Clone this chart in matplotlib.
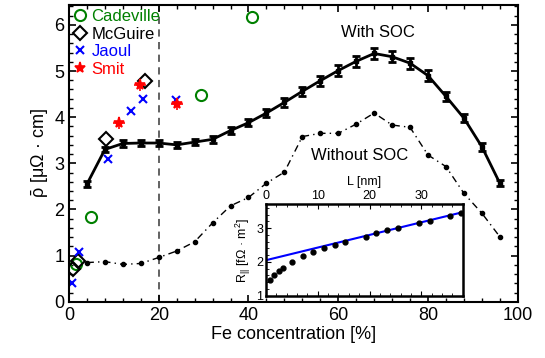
import numpy as np
import matplotlib.pyplot as plt

plt.rcParams['font.family'] = ['Liberation Sans', 'DejaVu Sans']
plt.rcParams['mathtext.fontset'] = 'custom'
plt.rcParams['mathtext.rm'] = 'Liberation Sans'
plt.rcParams['mathtext.it'] = 'Liberation Sans'

# calculated resistivity, with and without spin-orbit coupling
fe = [4, 8, 12, 16, 20, 24, 28, 32, 36, 40, 44, 48, 52, 56, 60, 64, 68, 72, 76, 80, 84, 88, 92, 96]
rho_soc = [2.55, 3.30, 3.43, 3.44, 3.44, 3.40, 3.46, 3.52, 3.71, 3.88, 4.09, 4.32, 4.56, 4.79,
           5.01, 5.21, 5.38, 5.31, 5.17, 4.90, 4.45, 3.98, 3.36, 2.57]
rho_err = [0.07, 0.06, 0.07, 0.07, 0.06, 0.06, 0.06, 0.07, 0.07, 0.08, 0.09, 0.09, 0.10, 0.11,
           0.11, 0.12, 0.12, 0.12, 0.12, 0.12, 0.10, 0.09, 0.09, 0.07]
rho_nosoc = [0.85, 0.87, 0.81, 0.83, 0.96, 1.10, 1.30, 1.71, 2.08, 2.26, 2.57, 2.81, 3.58, 3.65,
             3.65, 3.85, 4.09, 3.83, 3.78, 3.18, 2.93, 2.35, 1.92, 1.41]

# experiments
cad_x = [1.5, 5.0, 29.5, 40.8]
cad_y = [0.82, 1.83, 4.48, 6.16]
mcg_x = [1.0, 2.0, 8.2, 17.0]
mcg_y = [0.70, 0.88, 3.52, 4.79]
jao_x = [0.6, 2.2, 8.7, 13.9, 16.4, 23.9]
jao_y = [0.41, 1.07, 3.09, 4.14, 4.40, 4.37]
smit_x = [11.2, 15.9, 24.1]
smit_y = [3.88, 4.70, 4.28]

# inset: resistance vs length
L = [0.8, 1.6, 2.5, 3.2, 5.1, 7.1, 9.1, 11.2, 13.3, 15.3, 19.3, 21.3, 23.4, 25.5, 29.5, 31.6, 35.6, 37.7]
R = [1.45, 1.61, 1.74, 1.83, 2.01, 2.16, 2.28, 2.40, 2.50, 2.59, 2.75, 2.85, 2.93, 3.00, 3.15, 3.22, 3.37, 3.45]
fit_L = [0, 38]
fit_R = [2.05, 3.47]

fig = plt.figure(figsize=(5.45, 3.58), dpi=100)
ax = fig.add_axes([0.1266, 0.157, 0.8234, 0.829])

ax.axvline(20, color='#555555', ls=(0, (4, 3)), lw=1.3, zorder=1)
ax.plot(fe, rho_nosoc, color='black', ls=(0, (5, 3, 1, 3)), lw=1.0, marker='o', ms=3)
ax.errorbar(fe, rho_soc, yerr=rho_err, color='black', lw=2.0, marker='s', ms=3,
            capsize=3, elinewidth=2, capthick=2)

ax.plot(cad_x, cad_y, 'o', mfc='none', mec='green', mew=1.5, ms=8, ls='none', label='Cadeville')
ax.plot(mcg_x, mcg_y, 'D', mfc='none', mec='black', mew=1.5, ms=7, ls='none', label='McGuire')
ax.plot(jao_x, jao_y, 'x', color='blue', mew=1.5, ms=6, ls='none', label='Jaoul')
ax.plot(smit_x, smit_y, '*', color='red', mew=1.2, ms=8, ls='none', label='Smit')
ax.plot(smit_x, smit_y, '+', color='red', mew=1.2, ms=8, ls='none')

ax.legend(loc='upper left', frameon=False, fontsize=12, handlelength=0.8, handletextpad=0.3,
          labelspacing=0.15, borderaxespad=0.1, borderpad=0.15,
          labelcolor=['green', 'black', 'blue', 'red'])

ax.text(68.8, 5.83, 'With SOC', fontsize=12, ha='center', va='center')
ax.text(64.8, 3.18, 'Without SOC', fontsize=12, ha='center', va='center')

ax.set_xlim(0, 100)
ax.set_ylim(0, 6.43)
ax.set_xticks([0, 20, 40, 60, 80, 100])
ax.set_xticks(np.arange(0, 101, 4), minor=True)
ax.set_yticks([0, 1, 2, 3, 4, 5, 6])
ax.set_yticks(np.arange(0, 6.41, 0.2), minor=True)
ax.tick_params(which='both', direction='in', top=True, right=True, labelsize=13)
ax.tick_params(which='major', length=5, width=1.2)
ax.tick_params(which='minor', length=3, width=1)
for s in ax.spines.values():
    s.set_linewidth(1.5)
ax.set_xlabel('Fe concentration [%]', fontsize=13, labelpad=2)
ax.set_ylabel(r'$\bar{\mathrm{\rho}}$ [μΩ · cm]', fontsize=13, labelpad=2)

# inset
ins = fig.add_axes([0.488, 0.174, 0.361, 0.255])
ins.plot(fit_L, fit_R, color='blue', lw=1.5)
ins.plot(L, R, 'o', color='black', ms=3.5)
ins.set_xlim(0, 38)
ins.set_ylim(1, 3.7)
ins.set_xticks([0, 10, 20, 30])
ins.set_xticks(np.arange(0, 38, 2), minor=True)
ins.set_yticks([1, 2, 3])
ins.set_yticks(np.arange(1, 3.7, 0.2), minor=True)
ins.xaxis.tick_top()
ins.xaxis.set_label_position('top')
ins.tick_params(which='both', direction='in', top=True, bottom=True, labelsize=9, pad=2)
ins.tick_params(which='minor', length=2)
for s in ins.spines.values():
    s.set_linewidth(1.8)
ins.set_xlabel('L [nm]', fontsize=9, labelpad=3)
ins.set_ylabel(r'R$_{||}$ [fΩ · m$^2$]', fontsize=9, labelpad=2)

fig.savefig('out.png', dpi=100)
